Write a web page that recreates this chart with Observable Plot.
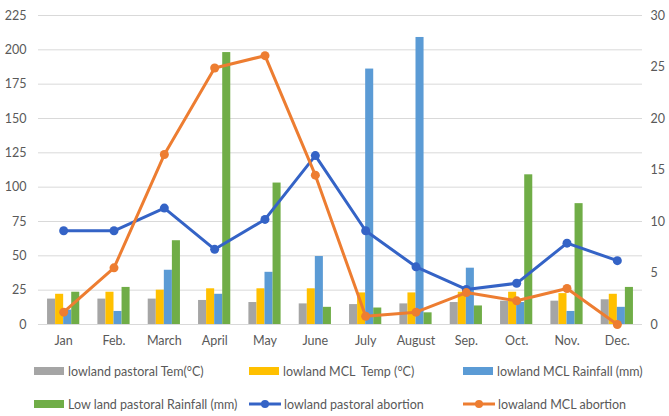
<!DOCTYPE html>
<html>
<head>
<meta charset="utf-8">
<script src="https://cdn.jsdelivr.net/npm/d3@7"></script>
<script src="https://cdn.jsdelivr.net/npm/@observablehq/plot@0.6"></script>
<style>
  body { margin: 0; background: #fff; font-family: Lato, "Open Sans", sans-serif; }
  #wrap { width: 669px; height: 416px; position: relative; overflow: hidden; }
  .legend { position: relative; width: 669px; height: 61px; color: #595959; font-size: 12.5px; }
  .item { position: absolute; display: flex; align-items: center; height: 16px; white-space: pre; }
  .sw { width: 30px; height: 8px; margin-right: 4px; }
  .item svg { margin-right: 3px; }
</style>
</head>
<body>
<div id="wrap"></div>
<script>
const months = ["Jan","Feb.","March","April","May","June","July","August","Sep.","Oct.","Nov.","Dec."];
const pastoralTemp = [18.5,18.5,18.5,17.5,16,15,14.5,15,16,17,17,18];
const mclTemp      = [22,23.5,25,26,26,26,23,23,23.5,23.5,22.5,22];
const mclRain      = [10.5,9.5,39.5,22,38,49.5,186,209,41,16,9.5,12.5];
const pastoralRain = [23.5,27,61,198,103,12.5,12,8.5,13.5,109,88,27];
const pastoralAbortion = [9.1,9.1,11.3,7.3,10.2,16.4,9.1,5.6,3.4,4.0,7.9,6.2];
const mclAbortion      = [1.2,5.5,16.5,24.9,26.1,14.5,0.8,1.2,3.1,2.3,3.5,0];
const leftTicks = [0,25,50,75,100,125,150,175,200,225];
const rightTicks = [0,5,10,15,20,25,30];

const barSeries = [
  {name: "lowland pastoral Tem(°C)", values: pastoralTemp, color: "#A5A5A5"},
  {name: "lowland MCL  Temp (°C)", values: mclTemp, color: "#FFC000"},
  {name: "lowland MCL Rainfall (mm)", values: mclRain, color: "#5B9BD5"},
  {name: "Low land pastoral Rainfall (mm)", values: pastoralRain, color: "#70AD47"}
];
const lineSeries = [
  {name: "lowland pastoral abortion", values: pastoralAbortion, color: "#3463C6"},
  {name: "lowaland MCL abortion", values: mclAbortion, color: "#ED7D31"}
];
const ratio = 225 / 30;
const groupStart = 0.18, barW = 0.16;

const bars = [];
barSeries.forEach((s, k) => s.values.forEach((v, i) => bars.push({i, k, v, series: s.name})));
const lines = [];
lineSeries.forEach(s => s.values.forEach((v, i) => lines.push({i, v, series: s.name})));

const plot = Plot.plot({
  width: 669,
  height: 355,
  marginLeft: 38,
  marginRight: 27,
  marginTop: 15,
  marginBottom: 31,
  style: {fontFamily: "Lato, 'Open Sans', sans-serif", fontSize: "12.5px", color: "#595959", background: "#fff"},
  x: {domain: [0, 12], axis: null},
  y: {domain: [0, 225], axis: null},
  color: {domain: [...barSeries, ...lineSeries].map(s => s.name), range: [...barSeries, ...lineSeries].map(s => s.color)},
  marks: [
    Plot.ruleY(leftTicks, {stroke: "#d9d9d9", strokeWidth: 1}),
    Plot.axisY(leftTicks, {anchor: "left", label: null, tickSize: 0, tickPadding: 12, fill: "#595959"}),
    Plot.axisY(rightTicks.map(t => t * ratio), {anchor: "right", label: null, tickSize: 0, tickPadding: 8, tickFormat: d => d / ratio, fill: "#595959", textAnchor: "start"}),
    Plot.axisX(months.map((m, i) => i + 0.5), {anchor: "bottom", label: null, tickSize: 0, tickPadding: 12, tickFormat: d => months[Math.floor(d)], fill: "#595959"}),
    Plot.rect(bars, {
      x1: d => d.i + groupStart + d.k * barW,
      x2: d => d.i + groupStart + (d.k + 1) * barW,
      y1: 0,
      y2: "v",
      fill: "series"
    }),
    Plot.line(lines, {x: d => d.i + 0.5, y: d => d.v * ratio, z: "series", stroke: "series", strokeWidth: 3, curve: "linear"}),
    Plot.dot(lines, {x: d => d.i + 0.5, y: d => d.v * ratio, fill: "series", r: 4.5})
  ]
});

const wrap = document.getElementById("wrap");
wrap.appendChild(plot);

const legend = document.createElement("div");
legend.className = "legend";
const cols = [34, 249, 463];
const rows = [8, 41];
const allItems = [
  ...barSeries.map(s => ({...s, type: "bar"})),
  ...lineSeries.map(s => ({...s, type: "line"}))
];
allItems.forEach((s, idx) => {
  const item = document.createElement("div");
  item.className = "item";
  item.style.left = cols[idx % 3] + "px";
  item.style.top = rows[Math.floor(idx / 3)] + "px";
  if (s.type === "bar") {
    const sw = document.createElement("div");
    sw.className = "sw";
    sw.style.background = s.color;
    item.appendChild(sw);
  } else {
    const ns = "http://www.w3.org/2000/svg";
    const svg = document.createElementNS(ns, "svg");
    svg.setAttribute("width", 32); svg.setAttribute("height", 10);
    const ln = document.createElementNS(ns, "line");
    ln.setAttribute("x1", 0); ln.setAttribute("x2", 32); ln.setAttribute("y1", 5); ln.setAttribute("y2", 5);
    ln.setAttribute("stroke", s.color); ln.setAttribute("stroke-width", 3);
    const c = document.createElementNS(ns, "circle");
    c.setAttribute("cx", 16); c.setAttribute("cy", 5); c.setAttribute("r", 4); c.setAttribute("fill", s.color);
    svg.appendChild(ln); svg.appendChild(c);
    item.appendChild(svg);
  }
  const t = document.createElement("span");
  t.textContent = s.name;
  item.appendChild(t);
  legend.appendChild(item);
});
wrap.appendChild(legend);
</script>
</body>
</html>
